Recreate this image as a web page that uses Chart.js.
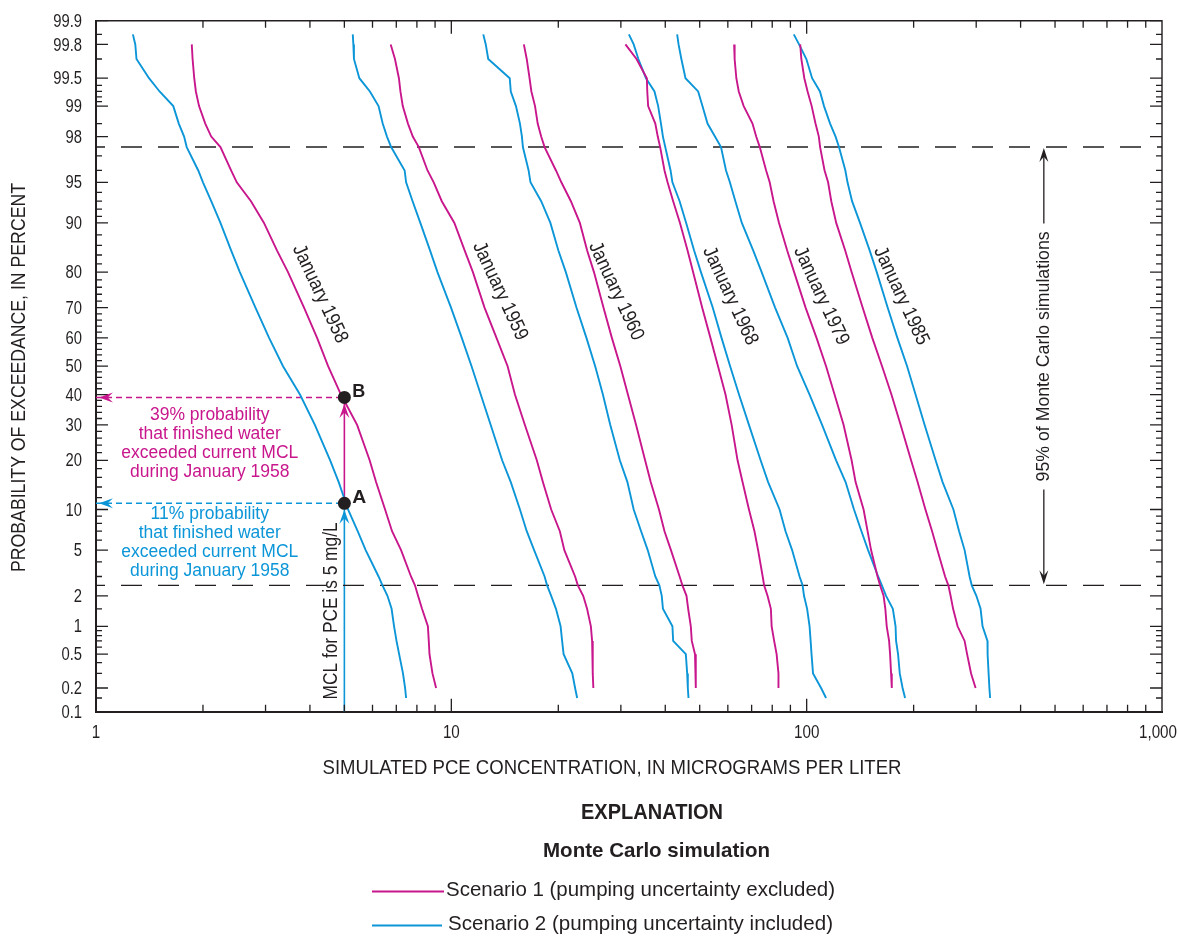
<!DOCTYPE html>
<html>
<head>
<meta charset="utf-8">
<script src="https://cdn.jsdelivr.net/npm/chart.js@4.4.1/dist/chart.umd.min.js"></script>
<style>
  html, body { margin: 0; padding: 0; background: #ffffff; }
  #wrap { width: 1179px; height: 936px; position: relative; }
</style>
</head>
<body>
<div id="wrap"><canvas id="chart" width="1179" height="936"></canvas></div>
<script>
// Exceedance probabilities (percent) at which each simulated curve is tabulated
const exceedance = [99.85, 99.8, 99.7, 99.5, 99.3, 99, 98.5, 98, 97.5, 96, 95, 93, 90, 85, 80, 70, 60, 50, 40, 30, 20, 15, 10, 7, 5, 3, 2.5, 2, 1.5, 1, 0.7, 0.5, 0.3, 0.2, 0.15];

// Simulated PCE concentration (micrograms per liter), Scenario 1 (pumping uncertainty excluded)
const s1Jan1958 = [null, 1.86, 1.87, 1.89, 1.91, 1.95, 2.03, 2.11, 2.24, 2.40, 2.49, 2.73, 2.97, 3.23, 3.47, 3.85, 4.19, 4.50, 4.89, 5.43, 5.89, 6.14, 6.51, 6.81, 7.22, 7.70, 7.90, 8.06, 8.27, 8.59, 8.64, 8.68, 8.85, 9.06, null];
const s1Jan1959 = [null, 6.75, 6.94, 7.12, 7.19, 7.30, 7.55, 7.79, 8.10, 8.57, 8.92, 9.40, 10.2, 10.9, 11.5, 12.4, 13.4, 14.4, 15.1, 16.1, 17.4, 18.1, 19.1, 20.2, 20.8, 22.3, 22.7, 23.5, 24.1, 24.7, 24.9, 25.0, 25.0, 25.1, null];
const s1Jan1960 = [null, 16.0, 16.3, 16.6, 16.8, 17.2, 17.5, 17.9, 18.3, 19.7, 20.4, 21.7, 23.0, 24.1, 25.2, 26.8, 28.3, 29.9, 31.4, 33.1, 35.1, 36.4, 38.4, 39.8, 41.5, 43.9, 44.7, 45.9, 46.4, 47.2, 47.5, 48.5, 48.7, 48.8, null];
const s1Jan1968 = [null, 30.9, 33.2, 35.5, 35.6, 35.8, 37.5, 38.1, 38.7, 39.8, 40.6, 42.1, 44.0, 46.2, 47.9, 50.8, 53.6, 56.3, 59.1, 61.5, 63.9, 66.0, 68.8, 71.3, 73.0, 75.2, 75.9, 77.6, 79.3, 79.7, 81.0, 82.3, 83.3, 83.3, null];
const s1Jan1979 = [null, 62.5, 62.7, 63.4, 64.4, 66.5, 70.4, 72.1, 73.8, 76.9, 78.7, 80.7, 83.6, 88.1, 92.2, 99.3, 106.6, 113.4, 119.8, 127.0, 133.8, 137.3, 144.6, 148.4, 151.8, 158.3, 160.9, 164.6, 166.5, 168.0, 170.6, 171.7, 172.8, 173.6, null];
const s1Jan1985 = [null, 95.9, 96.6, 98.5, 100.6, 103.3, 105.9, 108.2, 109.1, 112.3, 114.9, 117.3, 121.1, 128.3, 133.8, 143.7, 153.0, 163.0, 173.2, 183.8, 196.7, 205.2, 215.9, 225.4, 233.3, 245.2, 250.5, 254.1, 258.3, 265.9, 278.3, 282.8, 290.2, 298.8, null];

// Simulated PCE concentration (micrograms per liter), Scenario 2 (pumping uncertainty included)
const s2Jan1958 = [1.27, 1.29, 1.30, 1.41, 1.51, 1.65, 1.71, 1.77, 1.80, 1.94, 2.00, 2.11, 2.24, 2.40, 2.54, 2.81, 3.07, 3.36, 3.75, 4.13, 4.56, 4.82, 5.12, 5.45, 5.74, 6.24, 6.40, 6.61, 6.79, 6.90, 7.01, 7.13, 7.31, 7.41, 7.46];
const s2Jan1959 = [5.28, 5.30, 5.32, 5.51, 5.90, 6.24, 6.41, 6.59, 6.77, 7.39, 7.46, 7.78, 8.18, 8.71, 9.14, 9.98, 10.7, 11.4, 12.1, 12.9, 13.9, 14.7, 15.6, 16.3, 17.1, 18.3, 18.6, 19.1, 19.7, 20.3, 20.5, 20.7, 21.9, 22.3, 22.6];
const s2Jan1960 = [12.3, 12.5, 12.7, 14.6, 14.7, 15.2, 15.6, 15.8, 15.9, 16.5, 16.7, 17.9, 19.0, 20.0, 21.0, 22.5, 24.0, 25.4, 26.7, 28.0, 29.8, 31.3, 32.6, 34.2, 35.7, 37.5, 38.5, 39.1, 39.4, 41.9, 42.1, 45.7, 46.1, 46.3, 46.5];
const s2Jan1968 = [31.6, 32.6, 33.6, 35.3, 37.3, 38.2, 38.9, 39.4, 40.0, 41.4, 41.9, 43.9, 45.8, 48.2, 50.4, 54.4, 57.6, 60.9, 64.5, 68.8, 74.2, 77.9, 83.9, 87.2, 91.0, 95.5, 97.4, 98.3, 100.3, 101.9, 102.6, 103.2, 104.2, 109.8, 113.4];
const s2Jan1979 = [43.2, 43.6, 44.4, 45.6, 49.5, 50.9, 52.6, 55.2, 57.4, 59.3, 60.8, 63.0, 65.7, 70.7, 74.7, 81.5, 88.4, 94.0, 101.9, 110.5, 121.0, 128.7, 135.9, 142.6, 148.9, 158.9, 162.8, 167.3, 174.8, 177.9, 178.5, 180.8, 182.8, 186.2, 189.2];
const s2Jan1985 = [92.0, 95.2, 99.8, 103.6, 109.0, 111.9, 116.4, 120.6, 123.3, 128.5, 130.3, 134.2, 141.3, 150.4, 157.5, 169.0, 180.0, 191.7, 202.5, 214.7, 230.6, 241.3, 258.8, 268.5, 278.3, 287.4, 291.5, 300.3, 308.6, 312.6, 322.7, 323.0, 325.1, 326.8, 328.3];

// Month labels written along the curve pairs
const monthLabels = ['January 1958', 'January 1959', 'January 1960', 'January 1968', 'January 1979', 'January 1985'];

// Reference values
const mclValue = 5;                 // MCL for PCE, micrograms per liter
const pointA = 11;                  // percent, Scenario 2, January 1958
const pointB = 39;                  // percent, Scenario 1, January 1958
const bandLimits = [97.5, 2.5];     // 95% of Monte Carlo simulations

// Axis ticks
const xTickValues = [1, 10, 100, 1000];
const xTickLabels = ['1', '10', '100', '1,000'];
const yTickValues = [99.9, 99.8, 99.5, 99, 98, 95, 90, 80, 70, 60, 50, 40, 30, 20, 10, 5, 2, 1, 0.5, 0.2, 0.1];
const yTickLabels = ['99.9', '99.8', '99.5', '99', '98', '95', '90', '80', '70', '60', '50', '40', '30', '20', '10', '5', '2', '1', '0.5', '0.2', '0.1'];
const yMinorTicks = [99.85, 99.7, 99.4, 99.3, 99.2, 99.1, 98.5, 97, 96, 94, 93, 92, 91, 88, 86, 84, 82, 78, 76, 74, 72, 68, 66, 64, 62, 58, 56, 54, 52, 48, 46, 44, 42, 38, 36, 34, 32, 28, 26, 24, 22, 18, 16, 14, 12, 9, 8, 7, 6, 4, 3, 1.5, 0.9, 0.8, 0.7, 0.6, 0.4, 0.3, 0.15];

// ---- styling -------------------------------------------------------------
const INK = '#231F20';
const MAGENTA = '#C8178C';
const BLUE = '#0C96D8';
const FONT = "'Liberation Sans', Arial, sans-serif";

// Inverse of the standard normal distribution (Acklam), used for the probability axis
function probit(p) {
  const a = [-3.969683028665376e+01, 2.209460984245205e+02, -2.759285104469687e+02, 1.383577518672690e+02, -3.066479806614716e+01, 2.506628277459239e+00];
  const b = [-5.447609879822406e+01, 1.615858368580409e+02, -1.556989798598866e+02, 6.680131188771972e+01, -1.328068155288572e+01];
  const c = [-7.784894002430293e-03, -3.223964580411365e-01, -2.400758277161838e+00, -2.549732539343734e+00, 4.374664141464968e+00, 2.938163982698783e+00];
  const d = [7.784695709041462e-03, 3.224671290700398e-01, 2.445134137142996e+00, 3.754408661907416e+00];
  const lo = 0.02425, hi = 1 - lo;
  let q, r;
  if (p < lo) {
    q = Math.sqrt(-2 * Math.log(p));
    return (((((c[0] * q + c[1]) * q + c[2]) * q + c[3]) * q + c[4]) * q + c[5]) / ((((d[0] * q + d[1]) * q + d[2]) * q + d[3]) * q + 1);
  }
  if (p <= hi) {
    q = p - 0.5; r = q * q;
    return (((((a[0] * r + a[1]) * r + a[2]) * r + a[3]) * r + a[4]) * r + a[5]) * q / (((((b[0] * r + b[1]) * r + b[2]) * r + b[3]) * r + b[4]) * r + 1);
  }
  q = Math.sqrt(-2 * Math.log(1 - p));
  return -(((((c[0] * q + c[1]) * q + c[2]) * q + c[3]) * q + c[4]) * q + c[5]) / ((((d[0] * q + d[1]) * q + d[2]) * q + d[3]) * q + 1);
}
const Z = pct => probit(pct / 100);
const Z_TOP = Z(99.9), Z_BOTTOM = Z(0.1);

function curvePoints(values) {
  const pts = [];
  values.forEach((v, i) => { if (v !== null) pts.push({ x: v, y: Z(exceedance[i]) }); });
  return pts;
}

const curveSets = [
  [s1Jan1958, MAGENTA], [s2Jan1958, BLUE],
  [s1Jan1959, MAGENTA], [s2Jan1959, BLUE],
  [s1Jan1960, MAGENTA], [s2Jan1960, BLUE],
  [s1Jan1968, MAGENTA], [s2Jan1968, BLUE],
  [s1Jan1979, MAGENTA], [s2Jan1979, BLUE],
  [s1Jan1985, MAGENTA], [s2Jan1985, BLUE]
];

const datasets = [];
// A and B markers (listed first so they sit on top)
datasets.push({
  data: [{ x: mclValue, y: Z(pointA) }, { x: mclValue, y: Z(pointB) }],
  showLine: false, pointRadius: 6.5, pointBackgroundColor: INK, pointBorderColor: INK, pointBorderWidth: 0
});
curveSets.forEach(([vals, col]) => datasets.push({
  data: curvePoints(vals), showLine: true, borderColor: col, borderWidth: 1.9,
  pointRadius: 0, tension: 0, fill: false
}));
// 95% band limits
bandLimits.forEach(p => datasets.push({
  data: [{ x: xTickValues[0], y: Z(p) }, { x: xTickValues[3], y: Z(p) }],
  showLine: true, borderColor: INK, borderWidth: 1.4, borderDash: [21, 16], borderDashOffset: 12, pointRadius: 0
}));
// MCL line up to A, then A to B
datasets.push({ data: [{ x: mclValue, y: Z_BOTTOM }, { x: mclValue, y: Z(pointA) }], showLine: true, borderColor: BLUE, borderWidth: 1.6, pointRadius: 0 });
datasets.push({ data: [{ x: mclValue, y: Z(pointA) }, { x: mclValue, y: Z(pointB) }], showLine: true, borderColor: MAGENTA, borderWidth: 1.6, pointRadius: 0 });
// Dashed read-offs to the probability axis
datasets.push({ data: [{ x: xTickValues[0], y: Z(pointB) }, { x: mclValue, y: Z(pointB) }], showLine: true, borderColor: MAGENTA, borderWidth: 1.5, borderDash: [6, 4], pointRadius: 0 });
datasets.push({ data: [{ x: xTickValues[0], y: Z(pointA) }, { x: mclValue, y: Z(pointA) }], showLine: true, borderColor: BLUE, borderWidth: 1.5, borderDash: [6, 4], pointRadius: 0 });

// ---- drawing helpers -----------------------------------------------------
// Condensed text: regular face squeezed horizontally (to a target width when given)
function text(ctx, str, x, y, o) {
  ctx.save();
  ctx.font = (o.bold ? 'bold ' : '') + o.size + 'px ' + FONT;
  ctx.fillStyle = o.color || INK;
  ctx.textBaseline = 'middle';
  ctx.textAlign = 'left';
  ctx.translate(x, y);
  if (o.rot) ctx.rotate(o.rot * Math.PI / 180);
  const w = ctx.measureText(str).width;
  const sx = o.width ? o.width / w : (o.sx || 0.84);
  ctx.scale(sx, 1);
  const align = o.align || 'center';
  const dx = align === 'center' ? -w / 2 : (align === 'right' ? -w : 0);
  ctx.fillText(str, dx, 0);
  ctx.restore();
}
function squeezeFor(ctx, str, size, target) {
  ctx.save();
  ctx.font = size + 'px ' + FONT;
  const w = ctx.measureText(str).width;
  ctx.restore();
  return target / w;
}

function arrowHead(ctx, tx, ty, ang, color, len, half) {
  const ux = Math.cos(ang), uy = Math.sin(ang);
  const px = -uy, py = ux;
  ctx.save();
  ctx.fillStyle = color;
  ctx.beginPath();
  ctx.moveTo(tx, ty);
  ctx.lineTo(tx - ux * len + px * half, ty - uy * len + py * half);
  ctx.lineTo(tx - ux * len * 0.62, ty - uy * len * 0.62);
  ctx.lineTo(tx - ux * len - px * half, ty - uy * len - py * half);
  ctx.closePath();
  ctx.fill();
  ctx.restore();
}

// Frame, inward tick marks, tick labels and all annotation text
const annotate = {
  id: 'annotate',
  afterDatasetsDraw(chart) {
    const { ctx, chartArea: a, scales: { x, y } } = chart;
    const L = a.left, R = a.right, T = a.top, B = a.bottom;

    // frame
    ctx.save();
    ctx.strokeStyle = INK;
    ctx.lineWidth = 1.4;
    ctx.beginPath();
    ctx.moveTo(L, T); ctx.lineTo(R, T); ctx.lineTo(R, B);
    ctx.stroke();

    // x ticks, bottom and top
    ctx.lineWidth = 1.3;
    for (let dec = 1; dec < 1000; dec *= 10) {
      for (let m = 1; m <= 9; m++) {
        const v = dec * m;
        if (v === 1) continue;
        const px = x.getPixelForValue(v);
        const len = m === 1 ? 13 : 7;
        ctx.beginPath();
        ctx.moveTo(px, B); ctx.lineTo(px, B - len);
        ctx.moveTo(px, T); ctx.lineTo(px, T + len);
        ctx.stroke();
      }
    }
    // y ticks, left and right
    const yTick = (p, len) => {
      const py = y.getPixelForValue(Z(p));
      ctx.beginPath();
      ctx.moveTo(L, py); ctx.lineTo(L + len, py);
      ctx.moveTo(R, py); ctx.lineTo(R - len, py);
      ctx.stroke();
    };
    yTickValues.forEach(p => yTick(p, 12));
    yMinorTicks.forEach(p => yTick(p, 6));
    ctx.restore();

    // tick labels
    yTickValues.forEach((p, i) => text(ctx, yTickLabels[i], L - 14, y.getPixelForValue(Z(p)) + 1, { size: 18.5, align: 'right', sx: 0.8 }));
    xTickValues.forEach((v, i) => {
      const px = Math.min(x.getPixelForValue(v), R - 4);
      text(ctx, xTickLabels[i], px, B + 21, { size: 19, sx: 0.8 });
    });

    // axis titles
    text(ctx, 'SIMULATED PCE CONCENTRATION, IN MICROGRAMS PER LITER', 612, 768, { size: 21, width: 579 });
    text(ctx, 'PROBABILITY OF EXCEEDANCE, IN PERCENT', 19.5, 377.5, { size: 21, width: 389, rot: -90 });

    // month labels along the curves: [concentration, percent]
    const monthPos = [[4.27, 74.1], [13.71, 74.9], [29.08, 74.9], [60.9, 73.5], [109.8, 73.5], [184.4, 73.5]];
    monthLabels.forEach((s, i) => {
      text(ctx, s, x.getPixelForValue(monthPos[i][0]), y.getPixelForValue(Z(monthPos[i][1])), { size: 20, width: 106, rot: 65 });
    });

    // A and B
    const xm = x.getPixelForValue(mclValue);
    const yA = y.getPixelForValue(Z(pointA));
    const yB = y.getPixelForValue(Z(pointB));
    text(ctx, 'A', xm + 8, yA - 6, { size: 19, bold: true, align: 'left', width: 14 });
    text(ctx, 'B', xm + 8, yB - 6, { size: 19, bold: true, align: 'left', width: 13 });

    // arrowheads
    arrowHead(ctx, xm, yA + 6.5, -Math.PI / 2, BLUE, 14, 5);
    arrowHead(ctx, xm, yB + 6.5, -Math.PI / 2, MAGENTA, 14, 5);
    arrowHead(ctx, L + 3, yB, Math.PI, MAGENTA, 14, 5);
    arrowHead(ctx, L + 3, yA, Math.PI, BLUE, 14, 5);

    // explanatory notes for A and B
    const xc = x.getPixelForValue(2.09);
    const noteLines = ['that finished water', 'exceeded current MCL', 'during January 1958'];
    const noteSx = squeezeFor(ctx, 'exceeded current MCL', 17.5, 177);
    [[MAGENTA, yB + 18, '39% probability'], [BLUE, yA + 11, '11% probability']].forEach(([col, y0, head]) => {
      [head].concat(noteLines).forEach((s, i) => text(ctx, s, xc, y0 + i * 18.8, { size: 17.5, color: col, sx: noteSx }));
    });

    // MCL note
    text(ctx, 'MCL for PCE is 5 mg/L', xm - 13, y.getPixelForValue(Z(1.43)), { size: 20, color: INK, width: 177, rot: -90 });

    // 95% band arrow
    const xb = x.getPixelForValue(465);
    const yTop = y.getPixelForValue(Z(bandLimits[0]));
    const yBot = y.getPixelForValue(Z(bandLimits[1]));
    const ymid = y.getPixelForValue(Z(53.5));
    ctx.save();
    ctx.strokeStyle = INK; ctx.lineWidth = 1.3;
    ctx.beginPath();
    ctx.moveTo(xb, yTop + 4); ctx.lineTo(xb, ymid - 133);
    ctx.moveTo(xb, ymid + 133); ctx.lineTo(xb, yBot - 4);
    ctx.stroke();
    ctx.restore();
    arrowHead(ctx, xb, yTop + 1, -Math.PI / 2, INK, 14, 4.5);
    arrowHead(ctx, xb, yBot - 1, Math.PI / 2, INK, 14, 4.5);
    text(ctx, '95% of Monte Carlo simulations', xb, ymid, { size: 19, width: 250, rot: -90 });

    // explanation
    text(ctx, 'EXPLANATION', 652, 813, { size: 22, bold: true, width: 142 });
    text(ctx, 'Monte Carlo simulation', 656.5, 851, { size: 21, bold: true, width: 227 });
    ctx.save();
    ctx.lineWidth = 2;
    ctx.strokeStyle = MAGENTA;
    ctx.beginPath(); ctx.moveTo(372, 891.5); ctx.lineTo(444, 891.5); ctx.stroke();
    ctx.strokeStyle = BLUE;
    ctx.beginPath(); ctx.moveTo(372, 925.5); ctx.lineTo(442, 925.5); ctx.stroke();
    ctx.restore();
    text(ctx, 'Scenario 1 (pumping uncertainty excluded)', 446, 890, { size: 21, align: 'left', width: 389 });
    text(ctx, 'Scenario 2 (pumping uncertainty included)', 448, 924, { size: 21, align: 'left', width: 385 });
  }
};

const noPad = s => { s.paddingLeft = 0; s.paddingRight = 0; s.paddingTop = 0; s.paddingBottom = 0; };

new Chart(document.getElementById('chart'), {
  type: 'scatter',
  data: { datasets },
  plugins: [annotate],
  options: {
    responsive: false,
    animation: false,
    devicePixelRatio: 1,
    layout: { padding: { top: 20.7, right: 17, left: 0, bottom: 0 } },
    plugins: { legend: { display: false }, tooltip: { enabled: false } },
    scales: {
      x: {
        type: 'logarithmic', min: 1, max: 1000, position: 'bottom',
        afterBuildTicks: s => { s.ticks = xTickValues.map(v => ({ value: v })); },
        afterFit: s => { s.height = 224.3; noPad(s); },
        ticks: { display: false },
        grid: { display: false },
        border: { display: true, color: INK, width: 2 }
      },
      y: {
        type: 'linear', min: Z_BOTTOM, max: Z_TOP, position: 'left',
        afterBuildTicks: s => { s.ticks = yTickValues.map(p => ({ value: Z(p) })); },
        afterFit: s => { s.width = 96; noPad(s); },
        ticks: { display: false },
        grid: { display: false },
        border: { display: true, color: INK, width: 2 }
      }
    }
  }
});
</script>
</body>
</html>
